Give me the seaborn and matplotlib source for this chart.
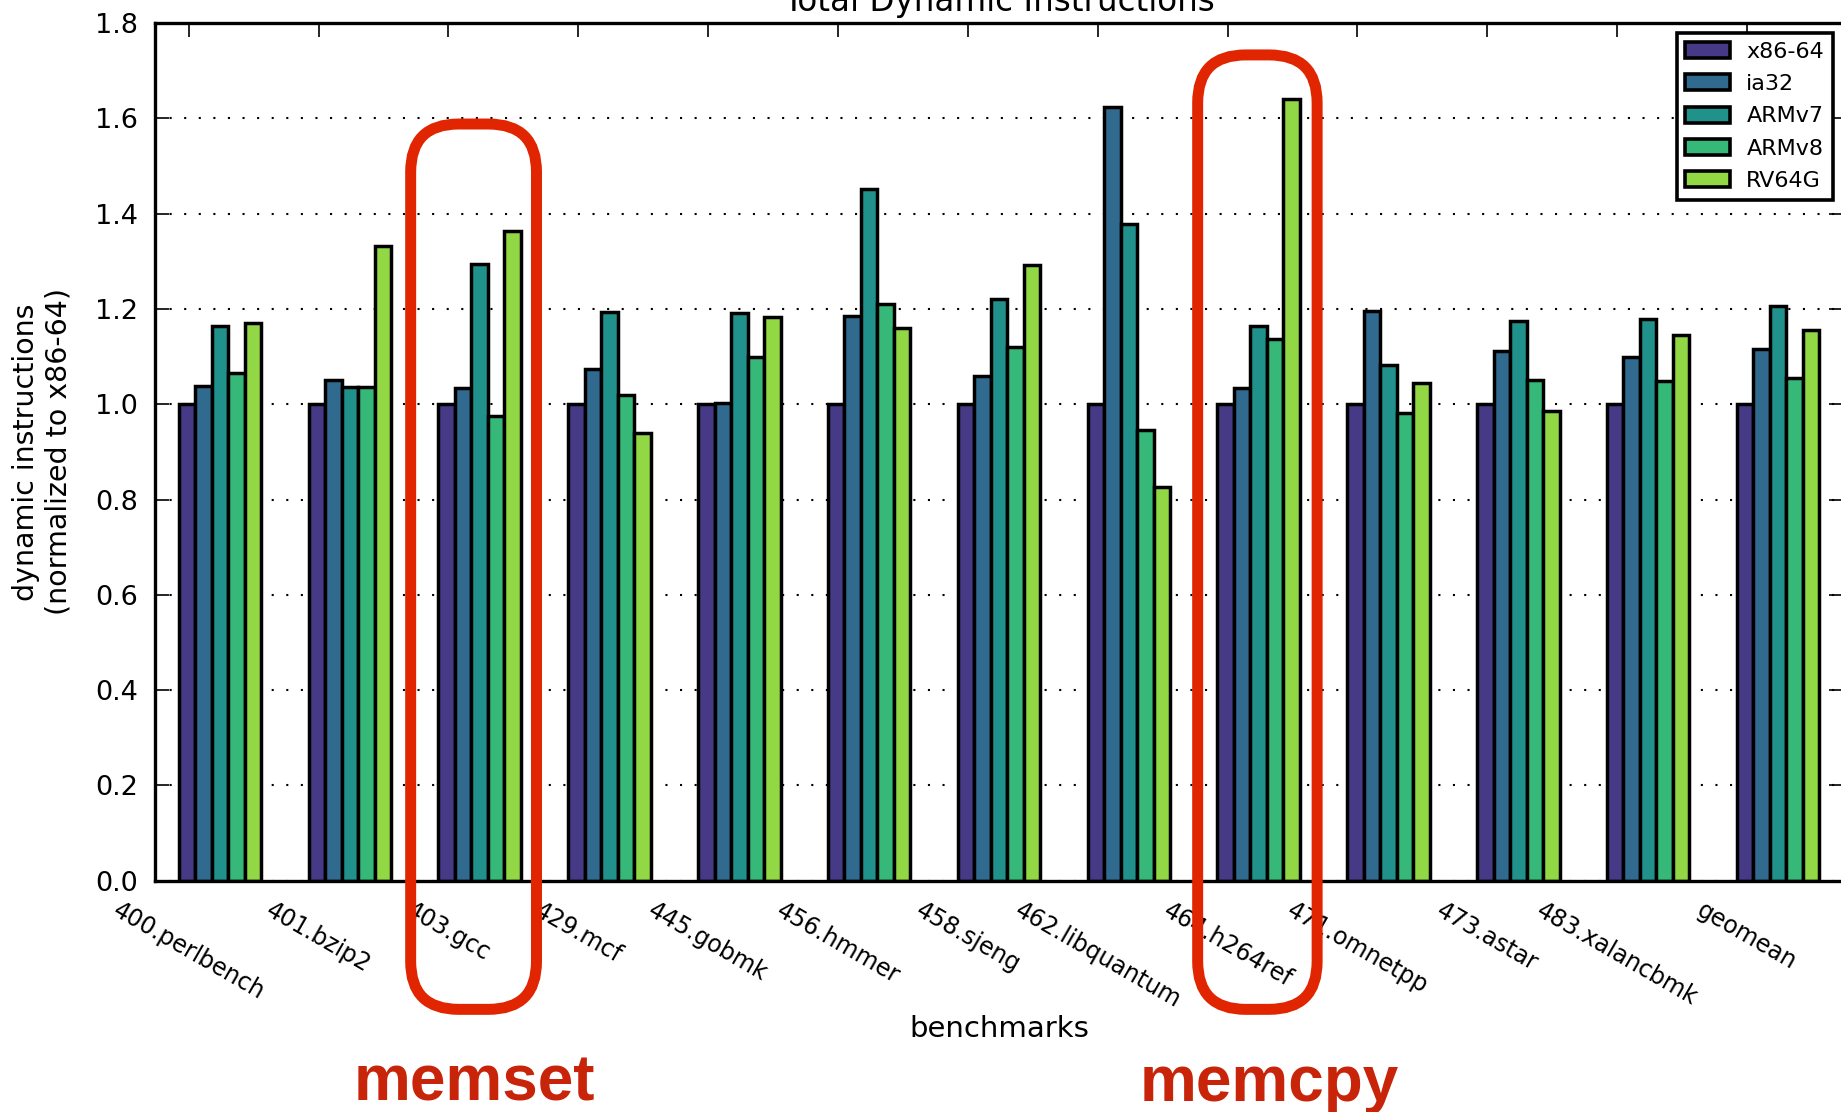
import matplotlib
matplotlib.use("Agg")
import matplotlib.pyplot as plt
import matplotlib.transforms as mtransforms
from matplotlib.patches import FancyBboxPatch
import seaborn as sns
import pandas as pd
import numpy as np

# benchmark names and ISAs
benchmarks = ["400.perlbench", "401.bzip2", "403.gcc", "429.mcf", "445.gobmk",
              "456.hmmer", "458.sjeng", "462.libquantum", "464.h264ref",
              "471.omnetpp", "473.astar", "483.xalancbmk", "geomean"]
isas = ["x86-64", "ia32", "ARMv7", "ARMv8", "RV64G"]

# dynamic instructions normalized to x86-64
x86_64 = [1.0, 1.0, 1.0, 1.0, 1.0, 1.0, 1.0, 1.0, 1.0, 1.0, 1.0, 1.0, 1.0]
ia32 = [1.038, 1.050, 1.035, 1.074, 1.003, 1.186, 1.060, 1.623, 1.034, 1.195, 1.111, 1.100, 1.116]
armv7 = [1.165, 1.036, 1.294, 1.193, 1.192, 1.452, 1.220, 1.379, 1.165, 1.082, 1.174, 1.179, 1.206]
armv8 = [1.066, 1.036, 0.975, 1.019, 1.100, 1.210, 1.121, 0.946, 1.137, 0.982, 1.050, 1.048, 1.055]
rv64g = [1.171, 1.331, 1.363, 0.940, 1.182, 1.159, 1.292, 0.827, 1.640, 1.045, 0.985, 1.145, 1.156]

colors = ["#463a86", "#316a8f", "#21918c", "#36b879", "#92d744"]

# red call-outs under two benchmarks
note_text = ["memset", "memcpy"]

series = [x86_64, ia32, armv7, armv8, rv64g]
rows = []
for isa, vals in zip(isas, series):
    for b, v in zip(benchmarks, vals):
        rows.append({"benchmark": b, "isa": isa, "value": v})
df = pd.DataFrame(rows)

sns.set_style("white")
plt.rcParams["font.family"] = ["DejaVu Sans"]
plt.rcParams.update({
    "axes.edgecolor": "black", "text.color": "black", "axes.labelcolor": "black",
    "xtick.color": "black", "ytick.color": "black",
})

W, H = 1841, 1112
fig = plt.figure(figsize=(W / 100, H / 100), dpi=100)
left, right, bottom, top = 155 / W, 1843 / W, 1 - 880.7 / H, 1 - 23 / H
ax = fig.add_axes([left, bottom, right - left, top - bottom])

sns.barplot(data=df, x="benchmark", y="value", hue="isa", order=benchmarks,
            hue_order=isas, palette=colors, saturation=1, width=0.635,
            edgecolor="black", linewidth=2.5, errorbar=None, ax=ax)

ax.set_xlim(-0.5, len(benchmarks) - 0.5)
ax.set_ylim(0, 1.8)
ax.set_yticks(np.arange(0, 1.81, 0.2))
ax.set_yticklabels([f"{t:.1f}" for t in np.arange(0, 1.81, 0.2)], fontsize=19.5)
ax.set_xticks(np.arange(len(benchmarks)) - 0.24)
ax.set_xticklabels(benchmarks, rotation=-30, ha="center", fontsize=17)
ax.tick_params(direction="in", length=10, width=1.2, top=True, right=True,
               bottom=True, left=True, pad=12.5)

for s in ax.spines.values():
    s.set_linewidth(2.4)
    s.set_color("black")

ax.set_axisbelow(True)
ax.grid(axis="y", linestyle=(0, (1, 6)), color="black", linewidth=1.5)
ax.grid(axis="x", visible=False)

ax.set_title("Total Dynamic Instructions", fontsize=23.5, pad=9)
ax.set_xlabel("benchmarks", fontsize=21)
ax.xaxis.set_label_coords(0.5, -0.156)
ax.set_ylabel("dynamic instructions\n(normalized to x86-64)", fontsize=20.5)
ax.yaxis.set_label_coords(-0.049, 0.5)

sns.move_legend(ax, "upper right", title=None, frameon=True, fancybox=False,
                fontsize=16, borderpad=0.4, labelspacing=0.55, handlelength=2.0,
                handleheight=0.74, handletextpad=0.74, borderaxespad=0.45,
                framealpha=1, edgecolor="black")
leg = ax.get_legend()
leg.get_frame().set_linewidth(2.6)
for h in leg.legend_handles:
    h.set_edgecolor("black")
    h.set_linewidth(2.6)

# red rounded boxes + labels below the axes
px_x = (right - left) * W / len(benchmarks)
px_y = (top - bottom) * H / 1.8
box_x0 = [1.469, 7.53]
box_x1 = [2.438, 8.45]
box_top = [1.588, 1.733]
box_bot = -0.27
text_x = [1.96, 8.08]
r = 48 / px_x
for x0, x1, yt in zip(box_x0, box_x1, box_top):
    p = FancyBboxPatch((x0, box_bot), x1 - x0, yt - box_bot,
                       boxstyle=f"round,pad=0,rounding_size={r}",
                       mutation_aspect=px_x / px_y, transform=ax.transData,
                       clip_on=False, fill=False, edgecolor="#e02500",
                       linewidth=7.9, zorder=10)
    ax.add_patch(p)

trans = mtransforms.blended_transform_factory(ax.transData, fig.transFigure)
for tx, t in zip(text_x, note_text):
    fig.text(tx, 1 - 1100.7 / H, t, transform=trans, ha="center", va="baseline",
             fontsize=46, fontweight="bold", color="#c8240a",
             family=["Liberation Sans", "DejaVu Sans"])

fig.savefig("out.png", dpi=100)
